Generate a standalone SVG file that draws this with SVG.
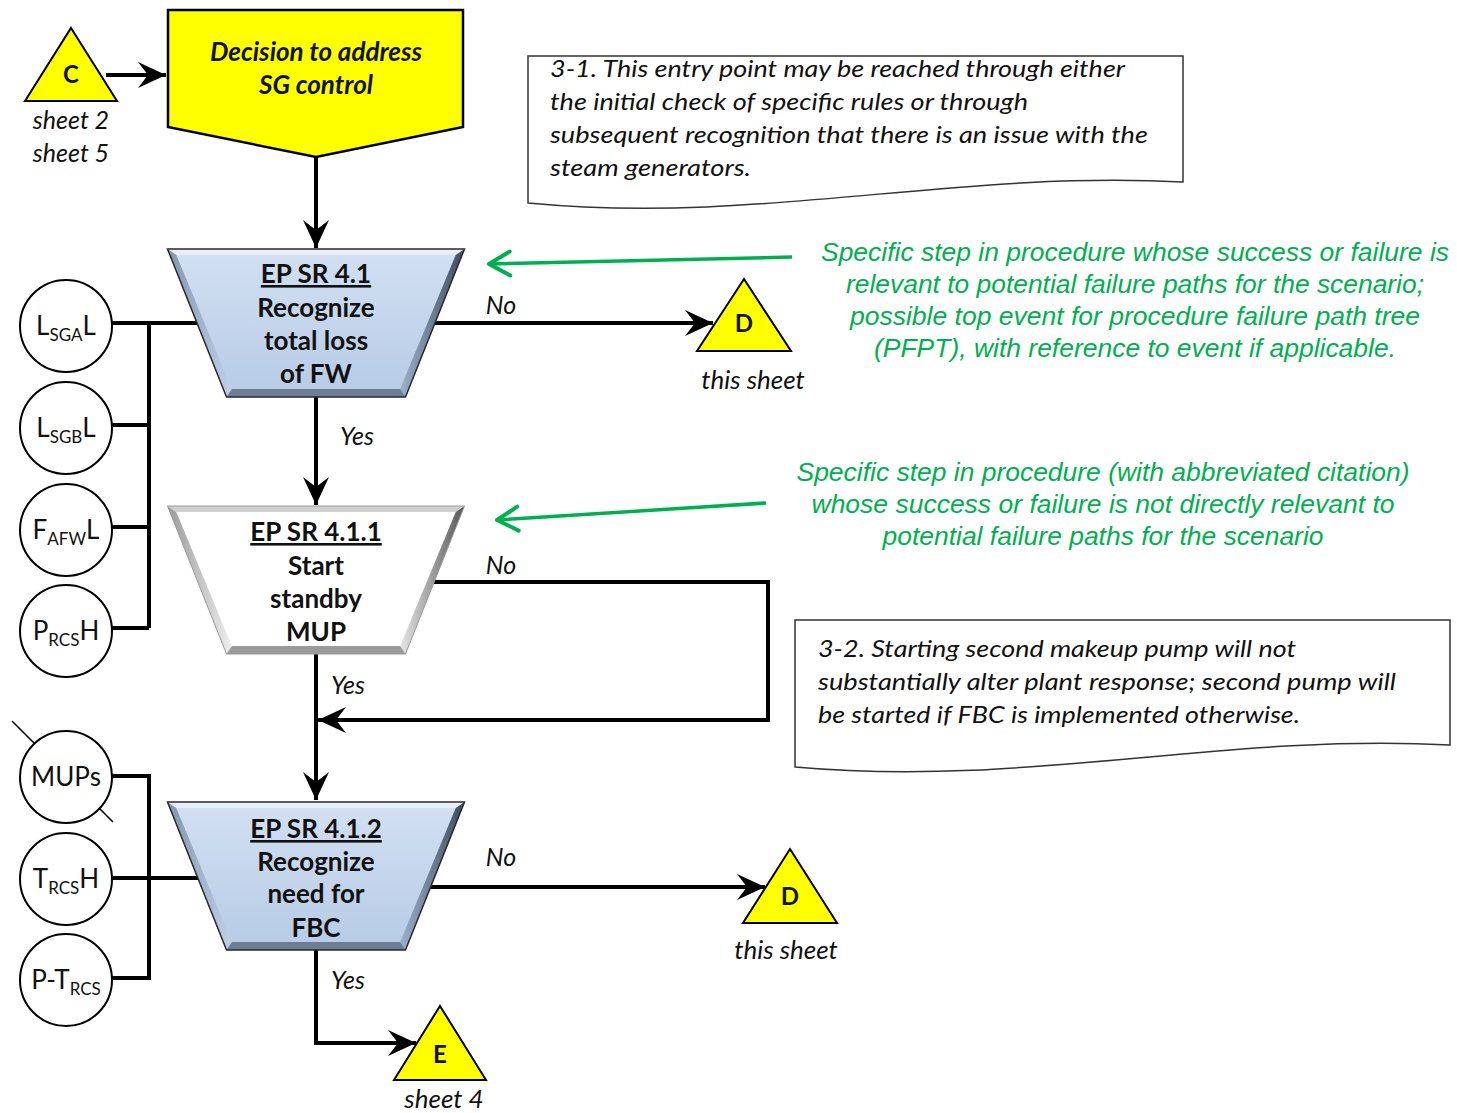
<svg xmlns="http://www.w3.org/2000/svg" xmlns:xlink="http://www.w3.org/1999/xlink" width="1457" height="1113" viewBox="0 0 1457 1113">
  <style>
    .lbl { font-family: Lato, "Open Sans", "Liberation Sans", sans-serif; fill: #111; }
    .it { font-style: italic; }
    .bd { font-weight: bold; }
    .mid { text-anchor: middle; }
    .step { font-family: Lato, "Open Sans", "Liberation Sans", sans-serif; font-weight: bold; font-size: 26px; text-anchor: middle; fill: #111; }
    .ref { text-decoration: underline; }
    .edge { font-family: Lato, "Open Sans", "Liberation Sans", sans-serif; font-style: italic; font-size: 25px; text-anchor: middle; fill: #111; }
    .note { font-family: Lato, "Open Sans", "Liberation Sans", sans-serif; font-style: italic; font-size: 24px; fill: #111; }
    .green { font-family: "Liberation Sans", Arial, sans-serif; font-style: italic; font-size: 26px; fill: #00b050; text-anchor: middle; }
    .ctext { font-family: Lato, "Open Sans", "Liberation Sans", sans-serif; font-size: 26px; text-anchor: middle; fill: #111; }
    .sub { font-size: 17px; }
    .tri { fill: #ffff00; stroke: #000; stroke-width: 2; stroke-linejoin: miter; }
    .circ { fill: #fff; stroke: #000; stroke-width: 2; }
    .wire { fill: none; stroke: #000; stroke-width: 4; }
    .flow { fill: none; stroke: #000; stroke-width: 4; marker-end: url(#ah); }
    .gline { fill: none; stroke: #00b050; stroke-width: 3.5; marker-end: url(#gah); }
    .notebox { fill: #fff; stroke: #333; stroke-width: 1.5; }
  </style>
  <defs>
    <marker id="ah" viewBox="-29 -15 31 30" refX="0" refY="0" markerWidth="31" markerHeight="30" markerUnits="userSpaceOnUse" orient="auto">
      <path d="M0,0 L-28,-13 L-18,0 L-28,13 Z" fill="#000"/>
    </marker>
    <marker id="gah" viewBox="-26 -16 30 32" refX="0" refY="0" markerWidth="30" markerHeight="32" markerUnits="userSpaceOnUse" orient="auto">
      <path d="M-21,-12 L0,0 L-21,12" fill="none" stroke="#00b050" stroke-width="4" stroke-linecap="round" stroke-linejoin="round"/>
    </marker>
    <linearGradient id="blueFace" x1="0" y1="0" x2="0" y2="1">
      <stop offset="0" stop-color="#d2e0f2"/>
      <stop offset="1" stop-color="#b7cbe6"/>
    </linearGradient>
    <linearGradient id="blueRight" x1="0" y1="0" x2="1" y2="0">
      <stop offset="0" stop-color="#9db1cd"/>
      <stop offset="1" stop-color="#3e4a5c"/>
    </linearGradient>
    <linearGradient id="blueLeft" x1="0" y1="0" x2="1" y2="0">
      <stop offset="0" stop-color="#8194ae"/>
      <stop offset="1" stop-color="#c0d2ea"/>
    </linearGradient>
    <linearGradient id="greyRight" x1="0" y1="0" x2="1" y2="0">
      <stop offset="0" stop-color="#e6e6e6"/>
      <stop offset="1" stop-color="#555"/>
    </linearGradient>
    <linearGradient id="greyLeft" x1="0" y1="0" x2="1" y2="0">
      <stop offset="0" stop-color="#9a9a9a"/>
      <stop offset="1" stop-color="#eeeeee"/>
    </linearGradient>
    <!-- bevelled trapezoid, 297 wide at top, 148 tall -->
    <g id="trapBlue">
      <polygon points="0,0 297,0 238,148 59,148" fill="url(#blueFace)"/>
      <polygon points="0,0 297,0 288.2,6 8.8,6" fill="#e8eff8"/>
      <polygon points="0,0 8.8,6 64.4,140 59,148" fill="url(#blueLeft)"/>
      <polygon points="297,0 238,148 232.6,140 288.2,6" fill="url(#blueRight)"/>
      <polygon points="59,148 238,148 232.6,140 64.4,140" fill="#6d7d93"/>
      <polygon points="0,0 297,0 238,148 59,148" fill="none" stroke="#2a2a2a" stroke-width="1.5"/>
    </g>
    <g id="trapGrey">
      <polygon points="0,0 297,0 238,148 59,148" fill="#ffffff"/>
      <polygon points="0,0 297,0 288.2,6 8.8,6" fill="#d0d0d0"/>
      <polygon points="0,0 8.8,6 64.4,140 59,148" fill="url(#greyLeft)"/>
      <polygon points="297,0 238,148 232.6,140 288.2,6" fill="url(#greyRight)"/>
      <polygon points="59,148 238,148 232.6,140 64.4,140" fill="#9a9a9a"/>
      <polygon points="0,0 297,0 238,148 59,148" fill="none" stroke="#9a9a9a" stroke-width="1"/>
    </g>
  </defs>

  <rect width="1457" height="1113" fill="#fff"/>

  <!-- annotation notes -->
  <g id="note-3-1">
    <path class="notebox" d="M528,56 L1183,56 L1183,182 C950,170 760,225 528,203 Z"/>
    <text class="note" x="550" y="77" textLength="575" lengthAdjust="spacingAndGlyphs">3-1. This entry point may be reached through either</text>
    <text class="note" x="550" y="110" textLength="478" lengthAdjust="spacingAndGlyphs">the initial check of specific rules or through</text>
    <text class="note" x="550" y="143" textLength="598" lengthAdjust="spacingAndGlyphs">subsequent recognition that there is an issue with the</text>
    <text class="note" x="550" y="176" textLength="201" lengthAdjust="spacingAndGlyphs">steam generators.</text>
  </g>
  <g id="note-3-2">
    <path class="notebox" d="M795,620 L1450,620 L1450,745 C1217,733 1027,788 795,767 Z"/>
    <text class="note" x="818" y="657" textLength="478" lengthAdjust="spacingAndGlyphs">3-2. Starting second makeup pump will not</text>
    <text class="note" x="818" y="690" textLength="578" lengthAdjust="spacingAndGlyphs">substantially alter plant response; second pump will</text>
    <text class="note" x="818" y="723" textLength="482" lengthAdjust="spacingAndGlyphs">be started if FBC is implemented otherwise.</text>
  </g>

  <!-- legend callouts -->
  <g id="legend-relevant">
    <text class="green" x="1135" y="261" textLength="628" lengthAdjust="spacingAndGlyphs">Specific step in procedure whose success or failure is</text>
    <text class="green" x="1135" y="293" textLength="578" lengthAdjust="spacingAndGlyphs">relevant to potential failure paths for the scenario;</text>
    <text class="green" x="1135" y="325" textLength="570" lengthAdjust="spacingAndGlyphs">possible top event for procedure failure path tree</text>
    <text class="green" x="1135" y="357" textLength="522" lengthAdjust="spacingAndGlyphs">(PFPT), with reference to event if applicable.</text>
  </g>
  <g id="legend-not-relevant">
    <text class="green" x="1103" y="481" textLength="613" lengthAdjust="spacingAndGlyphs">Specific step in procedure (with abbreviated citation)</text>
    <text class="green" x="1103" y="513" textLength="583" lengthAdjust="spacingAndGlyphs">whose success or failure is not directly relevant to</text>
    <text class="green" x="1103" y="545" textLength="441" lengthAdjust="spacingAndGlyphs">potential failure paths for the scenario</text>
  </g>

  <!-- connectors -->
  <g id="connectors">
    <!-- indicator buses -->
    <path class="wire" d="M112,323 L198,323 M149,323 L149,628 M112,425 L149,425 M112,527 L149,527 M112,628 L149,628"/>
    <path class="wire" d="M112,776 L149,776 L149,978 L112,978 M112,878 L198,878"/>
    <line x1="12" y1="721" x2="113" y2="822" stroke="#000" stroke-width="1.5"/>
    <!-- flow -->
    <path class="flow" d="M106,75 L166,75"/>
    <path class="flow" d="M316,157 L316,248"/>
    <path class="flow" d="M434,323 L713,323"/>
    <path class="flow" d="M316,397 L316,505"/>
    <path class="flow" d="M434,582 L768,582 L768,720 L318,720"/>
    <path class="flow" d="M316,654 L316,800"/>
    <path class="flow" d="M430,887 L765,887"/>
    <path class="flow" d="M316,950 L316,1043 L416,1043"/>
    <!-- legend pointers -->
    <path class="gline" d="M792,257 L489,264"/>
    <path class="gline" d="M766,503 L497,520"/>
  </g>

  <!-- indicator circles -->
  <g id="ind-lsga">
    <circle class="circ" cx="66" cy="326" r="46"/>
    <text class="ctext" x="66" y="335">L<tspan class="sub" dy="6">SGA</tspan><tspan dy="-6">L</tspan></text>
  </g>
  <g id="ind-lsgb">
    <circle class="circ" cx="66" cy="428" r="46"/>
    <text class="ctext" x="66" y="437">L<tspan class="sub" dy="6">SGB</tspan><tspan dy="-6">L</tspan></text>
  </g>
  <g id="ind-fafw">
    <circle class="circ" cx="66" cy="530" r="46"/>
    <text class="ctext" x="66" y="539">F<tspan class="sub" dy="6">AFW</tspan><tspan dy="-6">L</tspan></text>
  </g>
  <g id="ind-prcs">
    <circle class="circ" cx="66" cy="631" r="46"/>
    <text class="ctext" x="66" y="640">P<tspan class="sub" dy="6">RCS</tspan><tspan dy="-6">H</tspan></text>
  </g>
  <g id="ind-mups">
    <circle class="circ" cx="66" cy="777" r="46"/>
    <text class="ctext" x="66" y="786">MUPs</text>
  </g>
  <g id="ind-trcs">
    <circle class="circ" cx="66" cy="879" r="46"/>
    <text class="ctext" x="66" y="888">T<tspan class="sub" dy="6">RCS</tspan><tspan dy="-6">H</tspan></text>
  </g>
  <g id="ind-ptrcs">
    <circle class="circ" cx="66" cy="980" r="46"/>
    <text class="ctext" x="66" y="989">P-T<tspan class="sub" dy="6">RCS</tspan></text>
  </g>

  <!-- entry decision -->
  <g id="decision-sg">
    <path d="M168,10 L463,10 L463,127 L316,157 L168,127 Z" fill="#ffff00" stroke="#000" stroke-width="2.5"/>
    <text class="lbl it bd mid" x="316" y="61" font-size="26">Decision to address</text>
    <text class="lbl it bd mid" x="316" y="94" font-size="26">SG control</text>
  </g>

  <!-- off-sheet connectors -->
  <g id="conn-c">
    <polygon class="tri" points="71,28 117,101 25,101"/>
    <text class="lbl bd mid" x="71" y="83" font-size="24">C</text>
    <text class="lbl it mid" x="71" y="129" font-size="25">sheet 2</text>
    <text class="lbl it mid" x="71" y="162" font-size="25">sheet 5</text>
  </g>
  <g id="conn-d1">
    <polygon class="tri" points="744,279 791,351 697,351"/>
    <text class="lbl bd mid" x="744" y="332" font-size="24">D</text>
    <text class="lbl it mid" x="753" y="389" font-size="26">this sheet</text>
  </g>
  <g id="conn-d2">
    <polygon class="tri" points="790,849 837,923 743,923"/>
    <text class="lbl bd mid" x="790" y="905" font-size="24">D</text>
    <text class="lbl it mid" x="786" y="959" font-size="26">this sheet</text>
  </g>
  <g id="conn-e">
    <polygon class="tri" points="440,1006 486,1080 394,1080"/>
    <text class="lbl bd mid" x="440" y="1063" font-size="24">E</text>
    <text class="lbl it mid" x="444" y="1108" font-size="26">sheet 4</text>
  </g>

  <!-- procedure steps -->
  <g id="step-4-1">
    <use xlink:href="#trapBlue" href="#trapBlue" transform="translate(167.5,249)"/>
    <text class="step ref" x="316" y="283">EP SR 4.1</text>
    <text class="step" x="316" y="317">Recognize</text>
    <text class="step" x="316" y="350">total loss</text>
    <text class="step" x="316" y="383">of FW</text>
  </g>
  <g id="step-4-1-1">
    <use xlink:href="#trapGrey" href="#trapGrey" transform="translate(167.5,506)"/>
    <text class="step ref" x="316" y="541">EP SR 4.1.1</text>
    <text class="step" x="316" y="575">Start</text>
    <text class="step" x="316" y="608">standby</text>
    <text class="step" x="316" y="641">MUP</text>
  </g>
  <g id="step-4-1-2">
    <use xlink:href="#trapBlue" href="#trapBlue" transform="translate(167.5,802)"/>
    <text class="step ref" x="316" y="838">EP SR 4.1.2</text>
    <text class="step" x="316" y="871">Recognize</text>
    <text class="step" x="316" y="903">need for</text>
    <text class="step" x="316" y="937">FBC</text>
  </g>

  <!-- branch labels -->
  <g id="branch-labels">
    <text class="edge" x="501" y="314">No</text>
    <text class="edge" x="357" y="445">Yes</text>
    <text class="edge" x="501" y="574">No</text>
    <text class="edge" x="348" y="694">Yes</text>
    <text class="edge" x="501" y="866">No</text>
    <text class="edge" x="348" y="989">Yes</text>
  </g>
</svg>
